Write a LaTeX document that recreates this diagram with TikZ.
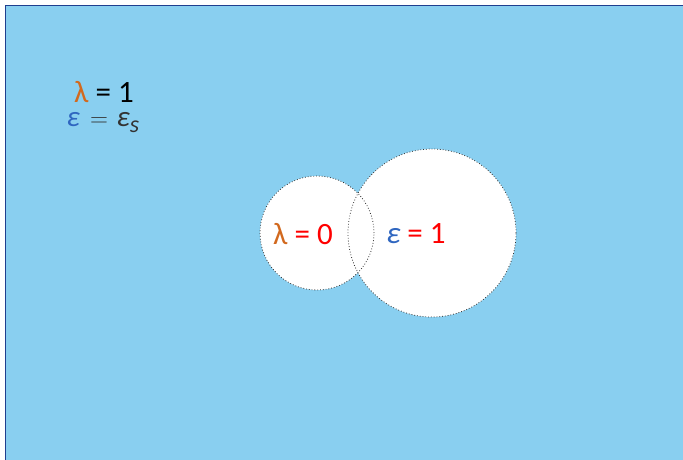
\documentclass[tikz,border=0pt]{standalone}
\usepackage{fontspec}
\setmainfont{Carlito}
\definecolor{bgblue}{HTML}{89CFF0}
\definecolor{edgeblue}{HTML}{1F3F8F}
\definecolor{lamorange}{HTML}{D2691E}
\definecolor{epsblue}{HTML}{2F66C0}
\definecolor{darkgray}{HTML}{333333}
\tikzset{
  region/.style={fill=white},
  rim/.style={draw=black!80, line width=0.8pt, dash pattern=on 0.8pt off 2pt},
  lbl/.style={font=\fontsize{31}{34}\selectfont, inner sep=0pt}
}
\newcommand{\eps}{{\itshape ε}}
\begin{document}
\begin{tikzpicture}[x=1pt,y=-1pt]
\useasboundingbox (0,0) rectangle (683,459);
\fill[bgblue] (5,5) rectangle (690,466);
\draw[edgeblue, line width=1pt] (5,466) -- (5,5) -- (690,5);
% regions
\path[region] (317,233) circle (57);
\path[region] (432,233) circle (84);
\node[circle, minimum size=114pt, inner sep=0pt, rim] (small) at (317,233) {};
\node[circle, minimum size=168pt, inner sep=0pt, rim] (big) at (432,233) {};
% labels
\node[lbl, text depth=0pt, anchor=base] (l1) at (104,102) {\textcolor{lamorange}{λ} = 1};
\node[lbl, font=\fontsize{29}{30}\selectfont, text=darkgray, text height=0.45em, anchor=base] (l2) at (103,126) {\textcolor{epsblue}{\eps}\hspace{0.35em}$=$\hspace{0.3em}\eps\raisebox{-0.22em}{\fontsize{24}{26}\selectfont\itshape s}};
\node[lbl, text=red] (l3) at (303,234) {\textcolor{lamorange}{λ} = 0};
\node[lbl, text=red] (l4) at (416,234) {\textcolor{epsblue}{\eps} = 1};
\end{tikzpicture}
\end{document}
